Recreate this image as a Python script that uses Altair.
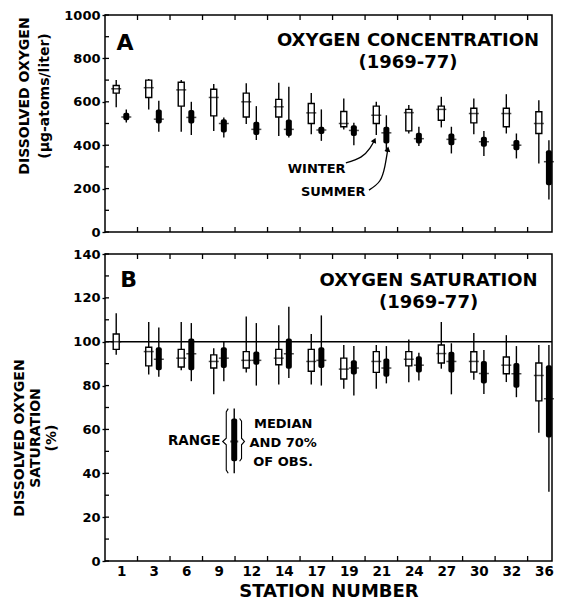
import altair as alt
import pandas as pd

stations = ["1", "3", "6", "9", "12", "14", "17", "19", "21", "24", "27", "30", "32", "36"]

# Panel A: oxygen concentration (ug-atoms/liter)
conc_winter_min = [575, 565, 462, 466, 498, 442, 451, 472, 447, 454, 482, 451, 454, 316]
conc_winter_q1 = [640, 620, 580, 535, 530, 530, 500, 485, 500, 466, 515, 503, 485, 454]
conc_winter_med = [660, 665, 655, 620, 600, 577, 549, 500, 538, 550, 565, 546, 546, 500]
conc_winter_q3 = [675, 700, 690, 658, 640, 611, 592, 555, 580, 565, 580, 570, 570, 554]
conc_winter_max = [700, 705, 700, 682, 685, 688, 641, 615, 600, 585, 623, 615, 635, 607]

conc_summer_min = [505, 462, 447, 436, 424, 436, 420, 400, 370, 396, 362, 350, 339, 150]
conc_summer_q1 = [515, 500, 500, 458, 447, 442, 452, 442, 408, 408, 400, 393, 377, 216]
conc_summer_med = [530, 520, 528, 500, 473, 473, 470, 468, 457, 430, 427, 416, 400, 324]
conc_summer_q3 = [550, 565, 562, 520, 508, 519, 485, 492, 485, 457, 454, 439, 424, 377]
conc_summer_max = [565, 605, 600, 528, 580, 669, 565, 503, 538, 485, 485, 466, 454, 423]

# Panel B: oxygen saturation (%)
sat_winter_min = [94, 85, 87, 76, 86, 80.5, 80.5, 78.5, 78.5, 81.5, 87.7, 82.7, 81.6, 58.5]
sat_winter_q1 = [96.5, 89, 88.5, 88, 88, 89.5, 86.5, 83, 86, 89, 90.3, 86.2, 85.4, 73]
sat_winter_med = [100, 95.5, 92.5, 91, 91.5, 92.5, 91, 87.5, 91, 92, 94.6, 91, 89.3, 84.6]
sat_winter_q3 = [103.5, 97.5, 96.5, 94, 95.5, 96.5, 96.5, 92.5, 95.5, 95.5, 98.5, 95.4, 93, 90.3]
sat_winter_max = [113, 109, 109, 97, 111.5, 107.5, 103.5, 98.5, 98.5, 101, 109, 104, 103, 98.5]

sat_summer_min = [None, 84, 82, 82, 80, 83.5, 80, 75.5, 81, 82.3, 76, 76.2, 74.7, 31.6]
sat_summer_q1 = [None, 87, 87, 88, 89.5, 87.7, 88, 85, 84, 86, 86, 81, 79, 56.3]
sat_summer_med = [None, 92, 94.5, 92.5, 91.5, 94.5, 91.5, 88, 88, 89.3, 91, 85.5, 85.4, 74]
sat_summer_q3 = [None, 97.5, 101.5, 97.5, 95.5, 101.5, 97.5, 91.5, 92.3, 93.4, 95.4, 91.2, 90.3, 89.3]
sat_summer_max = [None, 106.5, 108.5, 100, 108.5, 116, 112, 98, 98, 95, 99.3, 96.2, 98, 98.5]

conc_major = [0, 200, 400, 600, 800, 1000]
conc_minor = [100, 300, 500, 700, 900]
sat_major = [0, 20, 40, 60, 80, 100, 120, 140]
sat_minor = [10, 30, 50, 70, 90, 110, 130]

# annotation geometry (station-index / value units)
winter_arrow_x = [6.91, 7.37, 7.65, 7.79]
winter_arrow_y = [318, 345, 387, 423]
summer_arrow_x = [7.62, 7.95, 8.11, 8.20]
summer_arrow_y = [193, 235, 304, 382]

legend_idx = 3.475
legend_vals = [40, 45.5, 54.5, 65, 69.5]  # min, q1, median, q3, max
lbrace_x = [3.29, 3.23, 3.23, 3.12, 3.23, 3.23, 3.29]
lbrace_y = [69.5, 68, 56, 54.5, 53, 41.5, 40]
rbrace_x = [3.64, 3.70, 3.70, 3.79, 3.70, 3.70, 3.64]
rbrace_y = [65, 63.8, 56, 54.5, 53, 46.7, 45.5]

OFF = 0.155
W = 447
HA = 217
HB = 307
FONT = "DejaVu Sans"


def rows(season, lo, q1, med, q3, hi):
    out = []
    for i in range(len(stations)):
        if lo[i] is None:
            continue
        out.append(dict(idx=i, season=season,
                        xpos=i + (-OFF if season == "Winter" else OFF),
                        lo=lo[i], q1=q1[i], med=med[i], q3=q3[i], hi=hi[i]))
    return out


dfA = pd.DataFrame(rows("Winter", conc_winter_min, conc_winter_q1, conc_winter_med, conc_winter_q3, conc_winter_max)
                   + rows("Summer", conc_summer_min, conc_summer_q1, conc_summer_med, conc_summer_q3, conc_summer_max))
dfB = pd.DataFrame(rows("Winter", sat_winter_min, sat_winter_q1, sat_winter_med, sat_winter_q3, sat_winter_max)
                   + rows("Summer", sat_summer_min, sat_summer_q1, sat_summer_med, sat_summer_q3, sat_summer_max))

bounds_df = pd.DataFrame({"b": [i + 0.5 for i in range(len(stations) - 1)]})
one = pd.DataFrame({"k": [0]})

xscale = alt.Scale(domain=[-0.5, 13.25], nice=False, zero=False, padding=0)
label_expr = "[" + ",".join("'%s'" % s for s in stations) + "][datum.value]"

axisA_x = None
axisB_x = alt.Axis(values=list(range(len(stations))), labelExpr=label_expr, ticks=False, domain=False,
                   grid=False, labelPadding=3, labelFontSize=13.5, labelFlush=False, labelOverlap=False,
                   title="STATION NUMBER", titleFontSize=18, titlePadding=5)


def make_panel(df, ymax, height, major, minor, xaxis):
    yscale = alt.Scale(domain=[0, ymax], nice=False, zero=True, padding=0)
    yaxis = alt.Axis(values=major, format="d", tickSize=3, tickWidth=1.3, tickColor="black", labelPadding=2,
                     domain=False, grid=False, title=None, labelFontSize=13)

    def X(f):
        return alt.X(f, type="quantitative", scale=xscale, axis=xaxis, title=None if xaxis is None else "STATION NUMBER")

    def Y(f):
        return alt.Y(f, type="quantitative", scale=yscale, axis=yaxis, title=None)

    base = alt.Chart(df)
    whisk = base.mark_rule(color="black", strokeWidth=1.4).encode(x=X("xpos"), y=Y("lo"), y2="hi")
    wbox = base.transform_filter("datum.season == 'Winter'").mark_bar(
        size=6, fill="white", stroke="black", strokeWidth=1.4).encode(x=X("xpos"), y=Y("q1"), y2="q3")
    sbox = base.transform_filter("datum.season == 'Summer'").mark_bar(
        size=6, color="black", cornerRadius=2).encode(x=X("xpos"), y=Y("q1"), y2="q3")
    med = base.mark_tick(orient="horizontal", size=10, thickness=1.5, color="black").encode(
        x=X("xpos"), y=Y("med"))

    yt = pd.DataFrame({"t": major + minor})
    ytick = alt.Chart(yt).mark_rule(color="black", strokeWidth=1.3).encode(
        y=Y("t"), x=alt.value(0), x2=alt.value(4))
    xtick_b = alt.Chart(bounds_df).mark_rule(color="black", strokeWidth=1.3).encode(
        x=X("b"), y=alt.value(height), y2=alt.value(height - 5))
    xtick_t = alt.Chart(bounds_df).mark_rule(color="black", strokeWidth=1.3).encode(
        x=X("b"), y=alt.value(0), y2=alt.value(5))
    return [whisk, wbox, sbox, med, ytick, xtick_b, xtick_t], X, Y


# ---------- Panel A ----------
layersA, XA, YA = make_panel(dfA, 1000, HA, conc_major, conc_minor, axisA_x)

letterA = alt.Chart(one).mark_text(text="A", fontSize=22, fontWeight="bold", align="left",
                                   baseline="alphabetic").encode(x=alt.value(11.6), y=alt.value(35))
titleA = alt.Chart(one).mark_text(text=["OXYGEN CONCENTRATION", "(1969-77)"], fontSize=18, fontWeight="bold",
                                  align="center", baseline="alphabetic", lineHeight=22).encode(
    x=alt.value(303), y=alt.value(31))
ytitleA = alt.Chart(one).mark_text(text=["DISSOLVED OXYGEN", "(µg-atoms/liter)"], fontSize=14, fontWeight="bold",
                                   angle=270, align="center", baseline="middle", lineHeight=20).encode(
    x=alt.value(-80.4), y=alt.value(81))
winter_txt = alt.Chart(one).mark_text(text="WINTER", fontSize=13, fontWeight="bold", align="right",
                                      baseline="alphabetic").encode(x=alt.value(240.6), y=alt.value(158))
summer_txt = alt.Chart(one).mark_text(text="SUMMER", fontSize=13, fontWeight="bold", align="right",
                                      baseline="alphabetic").encode(x=alt.value(260.6), y=alt.value(181))

arrows = pd.DataFrame({
    "ax": winter_arrow_x + summer_arrow_x,
    "ay": winter_arrow_y + summer_arrow_y,
    "g": ["w"] * len(winter_arrow_x) + ["s"] * len(summer_arrow_x),
    "o": list(range(len(winter_arrow_x))) + list(range(len(summer_arrow_x))),
})
arrow_lines = alt.Chart(arrows).mark_line(color="black", strokeWidth=1.3, interpolate="natural").encode(
    x=XA("ax"), y=YA("ay"), detail="g:N", order="o:Q")
heads = pd.DataFrame({"hx": [winter_arrow_x[-1], summer_arrow_x[-1]],
                      "hy": [winter_arrow_y[-1], summer_arrow_y[-1]],
                      "ang": [25, 10]})
arrow_heads = alt.Chart(heads).mark_point(shape="triangle-up", filled=True, color="black", size=35,
                                          opacity=1).encode(
    x=XA("hx"), y=YA("hy"), angle=alt.Angle("ang:Q", scale=None))

panelA = alt.layer(*layersA, arrow_lines, arrow_heads, letterA, titleA, ytitleA, winter_txt, summer_txt).properties(
    width=W, height=HA)

# ---------- Panel B ----------
layersB, XB, YB = make_panel(dfB, 140, HB, sat_major, sat_minor, axisB_x)

ref = alt.Chart(pd.DataFrame({"r": [100]})).mark_rule(color="black", strokeWidth=1.5).encode(y=YB("r"))
letterB = alt.Chart(one).mark_text(text="B", fontSize=22, fontWeight="bold", align="left",
                                   baseline="alphabetic").encode(x=alt.value(15.3), y=alt.value(33))
titleB = alt.Chart(one).mark_text(text=["OXYGEN SATURATION", "(1969-77)"], fontSize=18, fontWeight="bold",
                                  align="center", baseline="alphabetic", lineHeight=22).encode(
    x=alt.value(323.6), y=alt.value(32))
ytitleB = alt.Chart(one).mark_text(text=["DISSOLVED OXYGEN", "SATURATION", "(%)"], fontSize=14, fontWeight="bold",
                                   angle=270, align="center", baseline="middle", lineHeight=16).encode(
    x=alt.value(-85.4), y=alt.value(184))

leg = pd.DataFrame({"lx": [legend_idx], "lo": [legend_vals[0]], "q1": [legend_vals[1]],
                    "med": [legend_vals[2]], "q3": [legend_vals[3]], "hi": [legend_vals[4]]})
leg_whisk = alt.Chart(leg).mark_rule(color="black", strokeWidth=1.4).encode(x=XB("lx"), y=YB("lo"), y2="hi")
leg_box = alt.Chart(leg).mark_bar(size=6, color="black", cornerRadius=2).encode(x=XB("lx"), y=YB("q1"), y2="q3")
leg_med = alt.Chart(leg).mark_tick(orient="horizontal", size=8, thickness=2, color="black").encode(
    x=XB("lx"), y=YB("med"))
braces = pd.DataFrame({
    "bx": lbrace_x + rbrace_x,
    "by": lbrace_y + rbrace_y,
    "g": ["l"] * len(lbrace_x) + ["r"] * len(rbrace_x),
    "o": list(range(len(lbrace_x))) + list(range(len(rbrace_x))),
})
brace_lines = alt.Chart(braces).mark_line(color="black", strokeWidth=1.1).encode(
    x=XB("bx"), y=YB("by"), detail="g:N", order="o:Q")
range_txt = alt.Chart(pd.DataFrame({"tx": [3.05], "ty": [54.5]})).mark_text(
    text="RANGE", fontSize=13.5, fontWeight="bold", align="right", baseline="middle").encode(
    x=XB("tx"), y=YB("ty"))
med_txt = alt.Chart(pd.DataFrame({"tx": [4.98], "ty": [60.5]})).mark_text(
    text=["MEDIAN", "AND 70%", "OF OBS."], fontSize=13, fontWeight="bold", align="center",
    baseline="alphabetic", lineHeight=19).encode(x=XB("tx"), y=YB("ty"))

panelB = alt.layer(ref, *layersB, leg_whisk, leg_box, leg_med, brace_lines, range_txt, med_txt,
                   letterB, titleB, ytitleB).properties(width=W, height=HB)

chart = alt.vconcat(panelA, panelB, spacing=22, bounds="flush").properties(
    padding={"left": 3, "top": 0, "right": 0, "bottom": 0}
).configure_view(
    stroke="black", strokeWidth=1.5
).configure_axis(
    labelFont=FONT, titleFont=FONT, labelFontWeight="bold", titleFontWeight="bold",
    labelColor="black", titleColor="black"
).configure_text(font=FONT, color="black")

chart.save("out.html", embed_options={"renderer": "svg", "actions": False})
